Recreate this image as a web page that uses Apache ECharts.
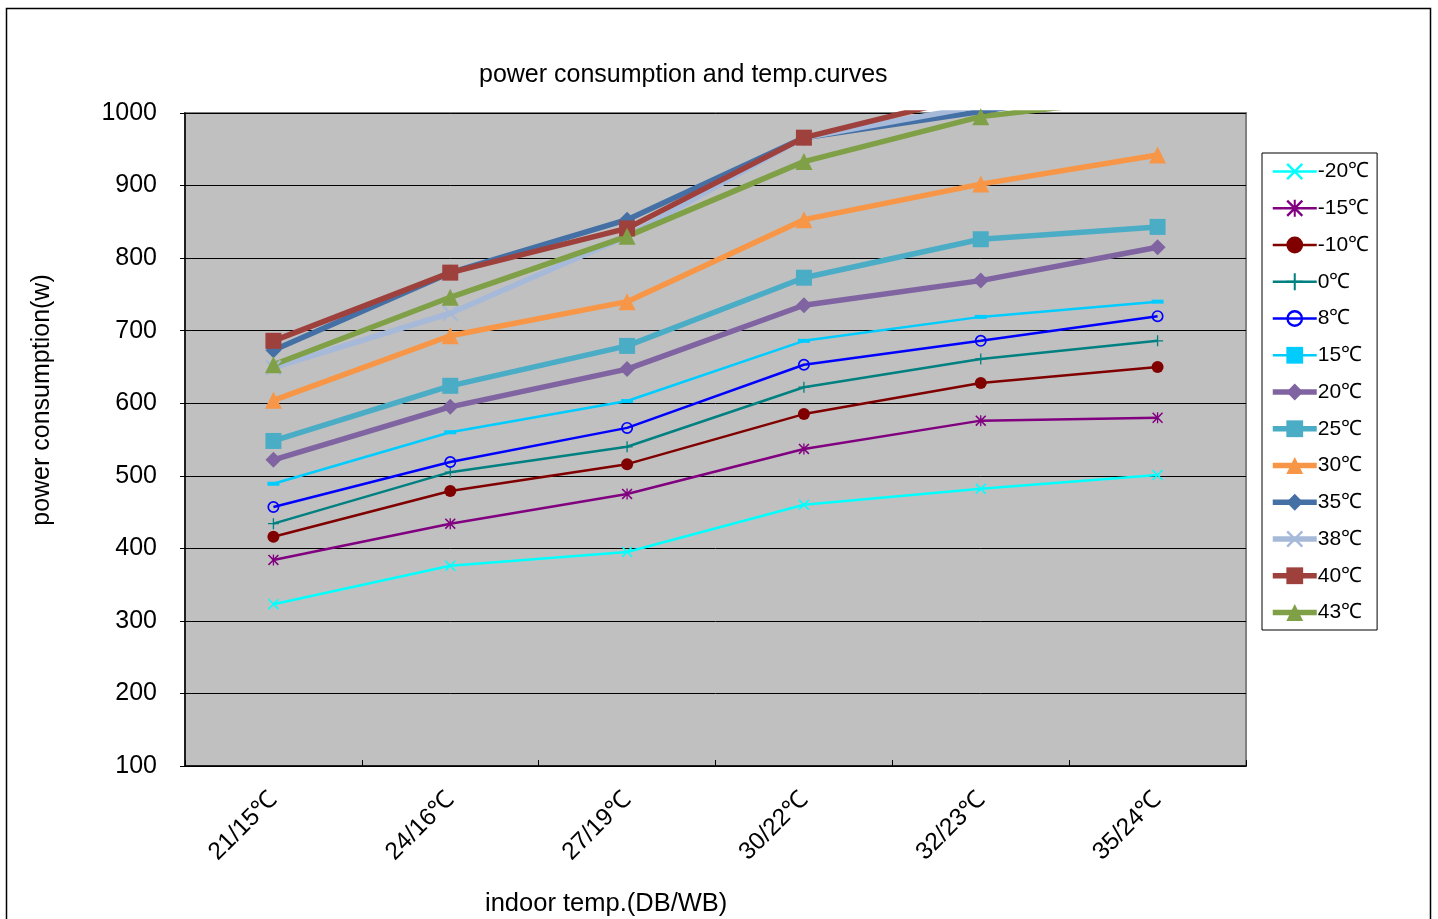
<!DOCTYPE html>
<html>
<head>
<meta charset="utf-8">
<script src="https://cdn.jsdelivr.net/npm/echarts@6/dist/echarts.min.js"></script>
<style>
html,body{margin:0;padding:0;background:#fff;}
#chart{width:1438px;height:919px;}
</style>
</head>
<body>
<div id="chart"></div>
<script>
var categories = ['21/15℃','24/16℃','27/19℃','30/22℃','32/23℃','35/24℃'];
var yTicks = [100, 1000, 100]; // min, max, interval

var names = ['-20℃','-15℃','-10℃','0℃','8℃','15℃','20℃','25℃','30℃','35℃','38℃','40℃','43℃'];
var tM20 = [323, 376, 395, 460, 482, 501];
var tM15 = [384, 434, 475, 537, 576, 580];
var tM10 = [416, 479, 516, 585, 628, 650];
var t0   = [434, 505, 540, 622, 661, 686];
var t8   = [457, 519, 566, 653, 686, 720];
var t15  = [489, 560, 603, 686, 719, 740];
var t20  = [522, 595, 647, 735, 769, 815];
var t25  = [548, 624, 679, 773, 826, 843];
var t30  = [604, 693, 740, 853, 902, 942];
var t35  = [673, 780, 853, 966, 1002, 1040];
var t38  = [649, 724, 830, 966, 1010, 1050];
var t40  = [686, 780, 841, 966, 1026, 1060];
var t43  = [653, 746, 830, 933, 995, 1023];

var xMark = 'path://M0,1L1,0L5,4L9,0L10,1L6,5L10,9L9,10L5,6L1,10L0,9L4,5Z';
var starMark = 'path://M0,1L1,0L5,4L9,0L10,1L6,5L10,9L9,10L5,6L1,10L0,9L4,5Z M4.4,0L5.6,0L5.6,10L4.4,10Z';
var plusMark = 'path://M4.4,0H5.6V4.4H10V5.6H5.6V10H4.4V5.6H0V4.4H4.4Z';
var ringMark = 'path://M5,0A5,5 0 1,1 5,10A5,5 0 1,1 5,0Z M5,1.4A3.6,3.6 0 1,0 5,8.6A3.6,3.6 0 1,0 5,1.4Z';
var dashMark = 'path://M0,0H12V4H0Z';

var font = '"Liberation Sans", Arial, sans-serif';

function mk(name, data, color, symbol, size, width) {
    return {
        name: name,
        type: 'line',
        data: data,
        symbol: symbol,
        symbolSize: size,
        symbolKeepAspect: true,
        clip: true,
        lineStyle: {color: color, width: width},
        itemStyle: {color: color},
        emphasis: {disabled: true}
    };
}

var thin = 2.5, thick = 5.5;
var legendData = names.map(function (n, i) {
    return {name: n, lineStyle: {width: i < 6 ? thin : thick}};
});

var chart = echarts.init(document.getElementById('chart'));
var option = {
    backgroundColor: '#fff',
    animation: false,
    title: [
        {
            text: 'power consumption and temp.curves',
            left: 474,
            top: 58,
            textStyle: {fontFamily: font, fontSize: 25, fontWeight: 'normal', color: '#000'}
        },
        {
            text: 'indoor temp.(DB/WB)',
            left: 480,
            top: 886,
            textStyle: {fontFamily: font, fontSize: 25.5, fontWeight: 'normal', color: '#000'}
        }
    ],
    legend: {
        orient: 'vertical',
        left: 1262,
        top: 153,
        padding: [8, 8, 7, 8],
        itemWidth: 44,
        itemHeight: 21,
        itemGap: 15.75,
        backgroundColor: '#fff',
        borderColor: '#000',
        borderWidth: 1,
        borderRadius: 0,
        lineStyle: {width: thin},
        textStyle: {fontFamily: font, fontSize: 21, lineHeight: 21, color: '#000', padding: [0, 0, 0, -4]},
        data: legendData
    },
    grid: {
        left: 185,
        right: 192,
        top: 113,
        bottom: 153,
        show: true,
        backgroundColor: '#C0C0C0',
        borderColor: '#808080',
        borderWidth: 2
    },
    xAxis: {
        type: 'category',
        data: categories,
        boundaryGap: true,
        axisLine: {lineStyle: {color: '#000', width: 1.5}},
        axisTick: {show: true, length: 6, inside: true, lineStyle: {color: '#000'}},
        axisLabel: {
            rotate: 45,
            margin: 30,
            fontFamily: font,
            fontSize: 24.5,
            color: '#000'
        }
    },
    yAxis: {
        type: 'value',
        min: yTicks[0],
        max: yTicks[1],
        interval: yTicks[2],
        axisLine: {show: true, lineStyle: {color: '#000', width: 1.5}},
        axisTick: {show: true, length: 5, lineStyle: {color: '#000'}},
        axisLabel: {
            fontFamily: font, fontSize: 25, color: '#000', margin: 28,
            formatter: function (v) { return String(v); }
        },
        splitLine: {lineStyle: {color: '#000', width: 1}}
    },
    series: [
        mk(names[0], tM20, '#00FFFF', xMark, 11, thin),
        mk(names[1], tM15, '#800080', starMark, 11, thin),
        mk(names[2], tM10, '#800000', 'circle', 12, thin),
        mk(names[3], t0, '#008080', plusMark, 11, thin),
        mk(names[4], t8, '#0000FF', ringMark, 12, thin),
        mk(names[5], t15, '#00CCFF', dashMark, 12, thin),
        mk(names[6], t20, '#8064A2', 'diamond', 16, thick),
        mk(names[7], t25, '#4BACC6', 'rect', 16, thick),
        mk(names[8], t30, '#F79646', 'triangle', 17, thick),
        mk(names[9], t35, '#4470A5', 'diamond', 16, thick),
        mk(names[10], t38, '#A6B9D9', xMark, 16, thick),
        mk(names[11], t40, '#9E403C', 'rect', 16, thick),
        mk(names[12], t43, '#80A048', 'triangle', 17, thick)
    ],
    graphic: [
        {
            type: 'text',
            x: 42,
            y: 400,
            rotation: Math.PI / 2,
            silent: true,
            style: {
                text: 'power consumption(w)',
                font: '25px "Liberation Sans", Arial, sans-serif',
                fill: '#000',
                textAlign: 'center',
                textVerticalAlign: 'middle'
            }
        },
        {
            type: 'rect',
            shape: {x: 6.5, y: 8.5, width: 1424, height: 930},
            style: {fill: 'none', stroke: '#000', lineWidth: 1.5},
            silent: true
        }
    ]
};
chart.setOption(option);
</script>
</body>
</html>
